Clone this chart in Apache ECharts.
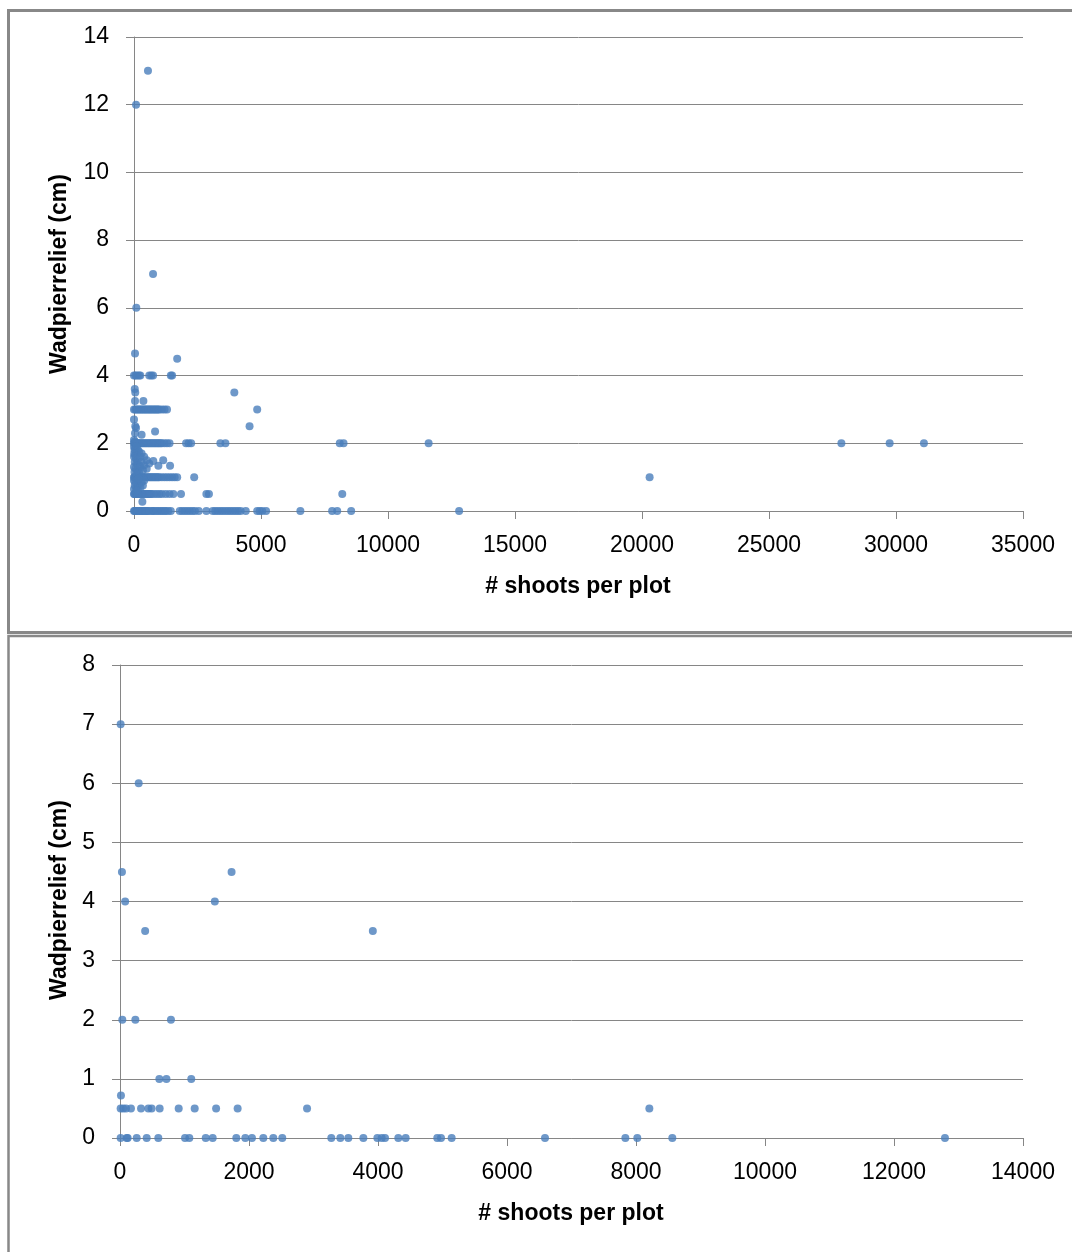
<!DOCTYPE html>
<html>
<head>
<meta charset="utf-8">
<script src="https://cdn.jsdelivr.net/npm/echarts@6/dist/echarts.min.js"></script>
<style>
html,body{margin:0;padding:0;background:#fff;}
#chart{width:1072px;height:1252px;}
</style>
</head>
<body>
<div id="chart"></div>
<script>
// ---------- Data: top chart (all plots) ----------
const topXTicks = [0, 5000, 10000, 15000, 20000, 25000, 30000, 35000];
const topYTicks = [0, 2, 4, 6, 8, 10, 12, 14];
// shoots per plot for points lying on a given relief level
const topRelief0 = [0, 30, 60, 100, 150, 200, 250, 300, 350, 400, 450, 500, 550, 600, 700, 750, 800, 900, 950, 1050, 1100, 1200, 1250, 1350, 1450, 1800, 1900, 2000, 2100, 2200, 2300, 2400, 2550, 2850, 3100, 3200, 3300, 3400, 3500, 3600, 3700, 3800, 3900, 4000, 4100, 4200, 4400, 4850, 4950, 5050, 5200, 6550, 7800, 8000, 8550, 12800];
const topRelief05 = [0, 20, 50, 80, 120, 160, 200, 250, 300, 350, 400, 450, 500, 550, 600, 650, 700, 800, 900, 1000, 1100, 1250, 1400, 1550, 1850, 2850, 2950, 8200];
const topRelief1 = [0, 20, 50, 80, 100, 130, 170, 200, 250, 300, 350, 400, 450, 500, 550, 600, 650, 700, 750, 800, 850, 900, 950, 1000, 1100, 1200, 1300, 1400, 1500, 1600, 1700, 2370, 20300];
const topRelief2 = [0, 20, 40, 70, 100, 130, 160, 200, 250, 300, 350, 400, 450, 500, 550, 600, 650, 700, 750, 800, 850, 900, 950, 1000, 1050, 1100, 1200, 1300, 1400, 2050, 2150, 2250, 3400, 3600, 8100, 8250, 11600, 27850, 29750, 31100];
const topRelief3 = [0, 50, 100, 150, 200, 250, 300, 350, 400, 450, 500, 550, 600, 650, 700, 750, 800, 850, 900, 950, 1000, 1100, 1200, 1300, 4850];
const topRelief4 = [0, 60, 120, 200, 250, 600, 680, 750, 1450, 1500];
// remaining points [shoots, relief]
const topOther = [
  [40, 4.65], [1700, 4.5], [30, 3.6], [50, 3.5], [3950, 3.5], [40, 3.25], [370, 3.25],
  [0, 2.7], [50, 2.5], [80, 2.45], [4550, 2.5], [830, 2.35], [300, 2.25], [40, 2.3], [0, 2.1], [30, 2.05],
  [750, 7], [90, 6], [80, 12], [550, 13], [330, 0.27],
  [0, 1.9], [20, 1.8], [60, 1.85], [100, 1.9], [150, 1.8], [10, 1.7], [50, 1.65], [120, 1.7], [200, 1.75],
  [0, 1.6], [80, 1.55], [150, 1.5], [250, 1.6], [30, 1.45], [100, 1.4], [200, 1.35], [300, 1.45],
  [0, 1.3], [60, 1.25], [150, 1.2], [250, 1.3], [400, 1.35], [20, 1.15], [100, 1.1], [200, 1.15],
  [350, 1.2], [500, 1.25], [600, 1.4], [760, 1.48], [960, 1.34], [1150, 1.5], [1420, 1.34],
  [300, 1.7], [400, 1.6], [500, 1.5],
  [0, 0.9], [50, 0.85], [120, 0.9], [200, 0.8], [30, 0.75], [100, 0.7], [250, 0.7], [0, 0.65],
  [80, 0.6], [150, 0.62], [300, 0.85], [350, 0.75], [400, 0.9], [180, 0.95]
];

// ---------- Data: bottom chart ----------
const botXTicks = [0, 2000, 4000, 6000, 8000, 10000, 12000, 14000];
const botYTicks = [0, 1, 2, 3, 4, 5, 6, 7, 8];
const botRelief0 = [10, 104, 119, 259, 414, 594, 1008, 1075, 1329, 1437, 1803, 1943, 2046, 2222, 2377, 2516, 3276, 3416, 3540, 3773, 3990, 4057, 4109, 4315, 4429, 4919, 4977, 5142, 6589, 7835, 8020, 8563, 12790];
const botRelief05 = [10, 50, 93, 170, 326, 440, 490, 615, 910, 1158, 1490, 1824, 2900, 8207];
const botRelief1 = [610, 720, 1105];
const botRelief2 = [36, 238, 790];
const botOther = [[15, 0.72], [80, 4], [1470, 4], [390, 3.5], [3920, 3.5], [30, 4.5], [1730, 4.5], [290, 6], [10, 7]];

const xTitle = '# shoots per plot';
const yTitle = 'Wadpierrelief (cm)';

// ---------- Build ----------
function level(arr, y) { return arr.map(function (x) { return [x, y]; }); }
const topData = [].concat(
  level(topRelief0, 0), level(topRelief05, 0.5), level(topRelief1, 1),
  level(topRelief2, 2), level(topRelief3, 3), level(topRelief4, 4), topOther);
const botData = [].concat(
  level(botRelief0, 0), level(botRelief05, 0.5), level(botRelief1, 1),
  level(botRelief2, 2), botOther);

const FONT = 'Liberation Sans';
const GRID = '#868686';
const DOT = '#4a7ebb';
const plain = function (v) { return String(v); };

function xAxisDef(gridIndex, ticks) {
  return {
    type: 'value', gridIndex: gridIndex,
    min: ticks[0], max: ticks[ticks.length - 1], interval: ticks[1] - ticks[0],
    axisLine: { show: true, onZero: false, lineStyle: { color: GRID, width: 1 } },
    axisTick: { show: true, inside: false, length: 8, lineStyle: { color: GRID } },
    axisLabel: { color: '#000', fontFamily: FONT, fontSize: 23, margin: 23, formatter: plain },
    splitLine: { show: false }
  };
}
function yAxisDef(gridIndex, ticks) {
  return {
    type: 'value', gridIndex: gridIndex,
    min: ticks[0], max: ticks[ticks.length - 1], interval: ticks[1] - ticks[0],
    axisLine: { show: true, lineStyle: { color: GRID, width: 1 } },
    axisTick: { show: true, inside: false, length: 8, lineStyle: { color: GRID } },
    axisLabel: { color: '#000', fontFamily: FONT, fontSize: 23, margin: 25, formatter: plain },
    splitLine: { show: true, lineStyle: { color: GRID, width: 1 } }
  };
}

const chart = echarts.init(document.getElementById('chart'), null, { renderer: 'canvas' });
chart.setOption({
  animation: false,
  backgroundColor: '#fff',
  grid: [
    { left: 134, top: 37, width: 889, height: 474 },
    { left: 120, top: 665, width: 903, height: 473 }
  ],
  xAxis: [xAxisDef(0, topXTicks), xAxisDef(1, botXTicks)],
  yAxis: [yAxisDef(0, topYTicks), yAxisDef(1, botYTicks)],
  series: [
    { type: 'scatter', xAxisIndex: 0, yAxisIndex: 0, data: topData, symbol: 'circle', symbolSize: 8, itemStyle: { color: DOT } },
    { type: 'scatter', xAxisIndex: 1, yAxisIndex: 1, data: botData, symbol: 'circle', symbolSize: 8, itemStyle: { color: DOT } }
  ],
  graphic: [
    { type: 'rect', silent: true, z: -10, shape: { x: 8.5, y: 10.5, width: 1100, height: 622 }, style: { fill: null, stroke: '#888', lineWidth: 3 } },
    { type: 'rect', silent: true, z: -10, shape: { x: 8.5, y: 636, width: 1100, height: 700 }, style: { fill: null, stroke: '#888', lineWidth: 2.5 } },
    { type: 'text', x: 578, y: 587, style: { text: xTitle, font: 'bold 23px ' + FONT, fill: '#000', textAlign: 'center', textVerticalAlign: 'middle' } },
    { type: 'text', x: 60, y: 274, rotation: Math.PI / 2, style: { text: yTitle, font: 'bold 23px ' + FONT, fill: '#000', textAlign: 'center', textVerticalAlign: 'middle' } },
    { type: 'text', x: 571, y: 1214, style: { text: xTitle, font: 'bold 23px ' + FONT, fill: '#000', textAlign: 'center', textVerticalAlign: 'middle' } },
    { type: 'text', x: 60, y: 900, rotation: Math.PI / 2, style: { text: yTitle, font: 'bold 23px ' + FONT, fill: '#000', textAlign: 'center', textVerticalAlign: 'middle' } }
  ]
});
</script>
</body>
</html>
